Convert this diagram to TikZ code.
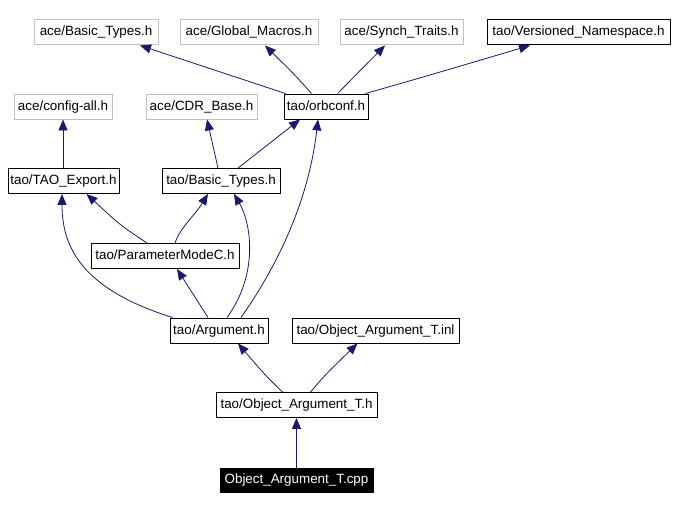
\documentclass[tikz,border=0pt]{standalone}
\usepackage{fontspec}
\setmainfont{Liberation Sans}
\usetikzlibrary{arrows.meta,calc}
\definecolor{edgec}{HTML}{191970}
\definecolor{grayb}{HTML}{BFBFBF}
\tikzset{
  box/.style={draw=black,line width=0.9pt,fill=white,minimum height=25pt,inner sep=0pt,text height=9.6pt,text depth=2.4pt,font=\fontsize{13.4}{15}\selectfont},
  gbox/.style={box,draw=grayb},
  mainbox/.style={box,fill=black,text=white},
  arr/.style={draw=edgec,line width=0.8pt,-{Triangle[length=11pt,width=9pt]}}
}
\begin{document}
\begin{tikzpicture}[x=1pt,y=-1pt]
\useasboundingbox (0,0) rectangle (675,510);
\node[gbox,minimum width=124pt] (aBT) at (96,31.5) {ace/Basic\_Types.h};
\node[gbox,minimum width=138pt] (aGM) at (249,31.5) {ace/Global\_Macros.h};
\node[gbox,minimum width=123pt] (aST) at (401.5,31.5) {ace/Synch\_Traits.h};
\node[box,minimum width=183pt] (tVN) at (578.5,31.5) {tao/Versioned\_Namespace.h};
\node[gbox,minimum width=98pt] (aCA) at (63,106.5) {ace/config-all.h};
\node[gbox,minimum width=111pt] (aCDR) at (201.5,106.5) {ace/CDR\_Base.h};
\node[box,minimum width=84pt] (tOC) at (326,106.5) {tao/orbconf.h};
\node[box,minimum width=111pt] (tTE) at (63.5,181) {tao/TAO\_Export.h};
\node[box,minimum width=118pt] (tBT) at (221,181) {tao/Basic\_Types.h};
\node[box,minimum width=148pt] (tPM) at (165,256) {tao/ParameterModeC.h};
\node[box,minimum width=98pt] (tAR) at (219,330.5) {tao/Argument.h};
\node[box,minimum width=167pt] (tOI) at (375.5,330.5) {tao/Object\_Argument\_T.inl};
\node[box,minimum width=161pt] (tOH) at (296.5,405) {tao/Object\_Argument\_T.h};
\node[mainbox,minimum width=153pt,minimum height=24pt] (cpp) at (296.5,480) {Object\_Argument\_T.cpp};

% orbconf edges
\draw[arr] ($(tOC.north west)+(2,0)$) -- ($(aBT.south)+(44,1)$);
\draw[arr] ($(tOC.north west)+(28,0)$) .. controls (295,75) .. ($(aGM.south)+(16,1)$);
\draw[arr] ($(tOC.north west)+(54,0)$) -- ($(aST.south)+(-16.5,1)$);
\draw[arr] ($(tOC.north east)+(-3,0)$) .. controls (420,78) .. ($(tVN.south)+(-48.5,1)$);
% TAO_Export
\draw[arr] (tTE.north -| aCA.south) -- (aCA.south);
% tao Basic_Types
\draw[arr] ($(tBT.north)+(-3,0)$) -- ($(aCDR.south)+(5.5,0)$);
\draw[arr] ($(tBT.north)+(17,0)$) -- ($(tOC.south)+(-26,0)$);
% ParameterModeC
\draw[arr] ($(tPM.north)+(-18,0)$) .. controls (120,225) .. ($(tTE.south)+(23,0)$);
\draw[arr] ($(tPM.north)+(10,0)$) .. controls (180,228) and (195,215) .. ($(tBT.south)+(-13,0)$);
% Argument
\draw[arr] ($(tAR.north west)+(3,0)$) .. controls (85,290) and (62,250) .. ($(tTE.south)+(-1.5,0)$);
\draw[arr] ($(tAR.north)+(-11,0)$) -- ($(tPM.south)+(12,0)$);
\draw[arr] ($(tAR.north)+(8,0)$) .. controls (258,275) and (252,225) .. ($(tBT.south)+(13,0)$);
\draw[arr] ($(tAR.north)+(22,0)$) .. controls (285,255) and (310,190) .. ($(tOC.south)+(-8,0)$);
% Object_Argument_T.h
\draw[arr] ($(tOH.north)+(-14,0)$) .. controls (265,375) .. ($(tAR.south)+(19,0)$);
\draw[arr] ($(tOH.north)+(14,0)$) .. controls (325,375) .. ($(tOI.south)+(-18,0)$);
% cpp
\draw[arr] (cpp.north) -- (tOH.south);
\end{tikzpicture}
\end{document}
